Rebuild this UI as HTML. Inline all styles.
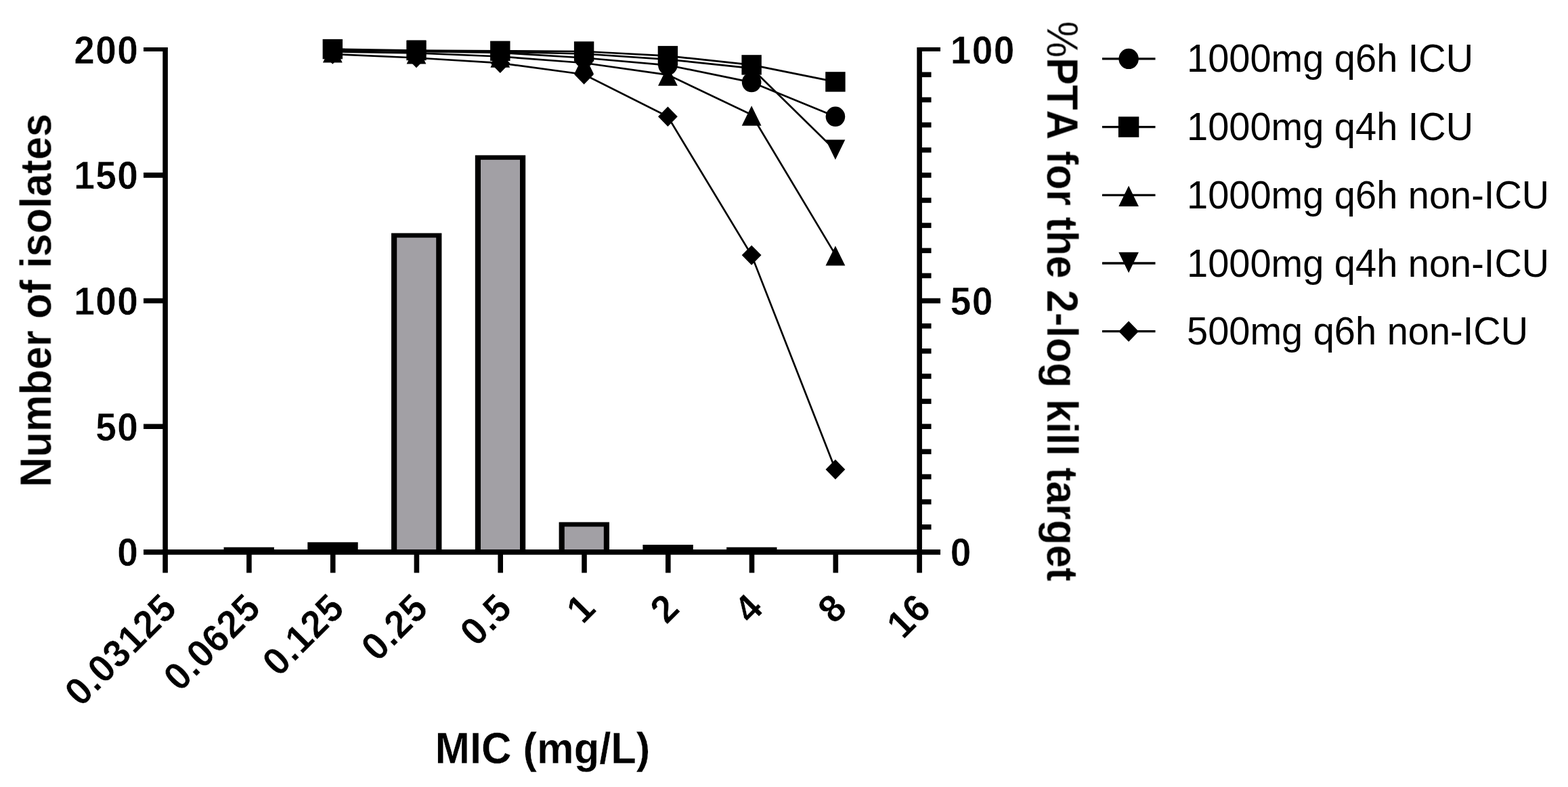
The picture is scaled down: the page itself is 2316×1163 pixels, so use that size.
<!DOCTYPE html>
<html lang="en">
<head>
<meta charset="utf-8">
<title>PTA vs MIC distribution</title>
<style>html,body{margin:0;padding:0;background:#fff;}svg{display:block;}</style>
</head>
<body>
<svg width="2316" height="1163" viewBox="0 0 2316 1163" font-family='"Liberation Sans", Arial, Helvetica, sans-serif' font-kerning="none" style="font-kerning:none">
<rect width="2316" height="1163" fill="#ffffff"/>
<defs><filter id="soft" x="0" y="0" width="2316" height="1163" filterUnits="userSpaceOnUse"><feGaussianBlur stdDeviation="0.7"/></filter><filter id="softText" x="0" y="0" width="2316" height="1163" filterUnits="userSpaceOnUse"><feGaussianBlur stdDeviation="0.5"/></filter></defs>
<g filter="url(#soft)">
<g stroke="none">
<rect x="330.5" y="808.7" width="74.4" height="7.2" fill="#000"/>
<rect x="454.3" y="801.3" width="74.4" height="14.6" fill="#000"/>
<rect x="578.0" y="344.5" width="74.4" height="471.4" fill="#000"/>
<rect x="586.2" y="351.2" width="58.0" height="460.9" fill="#a2a0a5"/>
<rect x="701.8" y="229.4" width="74.4" height="586.5" fill="#000"/>
<rect x="710.0" y="236.1" width="58.0" height="576.0" fill="#a2a0a5"/>
<rect x="825.6" y="771.6" width="74.4" height="44.3" fill="#000"/>
<rect x="833.8" y="778.3" width="58.0" height="33.8" fill="#a2a0a5"/>
<rect x="949.4" y="805.0" width="74.4" height="10.9" fill="#000"/>
<rect x="1073.1" y="808.7" width="74.4" height="7.2" fill="#000"/>
</g>
<g stroke="#000" stroke-width="7.6" fill="none" stroke-linecap="butt">
<line x1="244.1" y1="69.9" x2="244.1" y2="846.5"/>
<line x1="1358.1" y1="69.9" x2="1358.1" y2="846.5"/>
<line x1="212" y1="815.9" x2="1389" y2="815.9"/>
<line x1="212" y1="630.2" x2="244.1" y2="630.2"/>
<line x1="212" y1="444.5" x2="244.1" y2="444.5"/>
<line x1="212" y1="258.9" x2="244.1" y2="258.9"/>
<line x1="212" y1="72.90" x2="244.1" y2="72.90" stroke-width="6.0"/>
<line x1="1358.1" y1="72.90" x2="1389" y2="72.90" stroke-width="6.0"/>
<line x1="1358.1" y1="778.8" x2="1375.5" y2="778.8"/>
<line x1="1358.1" y1="741.6" x2="1375.5" y2="741.6"/>
<line x1="1358.1" y1="704.5" x2="1375.5" y2="704.5"/>
<line x1="1358.1" y1="667.4" x2="1375.5" y2="667.4"/>
<line x1="1358.1" y1="630.2" x2="1375.5" y2="630.2"/>
<line x1="1358.1" y1="593.1" x2="1375.5" y2="593.1"/>
<line x1="1358.1" y1="556.0" x2="1375.5" y2="556.0"/>
<line x1="1358.1" y1="518.8" x2="1375.5" y2="518.8"/>
<line x1="1358.1" y1="481.7" x2="1375.5" y2="481.7"/>
<line x1="1358.1" y1="444.5" x2="1389" y2="444.5"/>
<line x1="1358.1" y1="407.4" x2="1375.5" y2="407.4"/>
<line x1="1358.1" y1="370.3" x2="1375.5" y2="370.3"/>
<line x1="1358.1" y1="333.1" x2="1375.5" y2="333.1"/>
<line x1="1358.1" y1="296.0" x2="1375.5" y2="296.0"/>
<line x1="1358.1" y1="258.9" x2="1375.5" y2="258.9"/>
<line x1="1358.1" y1="221.7" x2="1375.5" y2="221.7"/>
<line x1="1358.1" y1="184.6" x2="1375.5" y2="184.6"/>
<line x1="1358.1" y1="147.5" x2="1375.5" y2="147.5"/>
<line x1="1358.1" y1="110.3" x2="1375.5" y2="110.3"/>
<line x1="367.9" y1="815.9" x2="367.9" y2="846.5"/>
<line x1="491.7" y1="815.9" x2="491.7" y2="846.5"/>
<line x1="615.4" y1="815.9" x2="615.4" y2="846.5"/>
<line x1="739.2" y1="815.9" x2="739.2" y2="846.5"/>
<line x1="863.0" y1="815.9" x2="863.0" y2="846.5"/>
<line x1="986.8" y1="815.9" x2="986.8" y2="846.5"/>
<line x1="1110.5" y1="815.9" x2="1110.5" y2="846.5"/>
<line x1="1234.3" y1="815.9" x2="1234.3" y2="846.5"/>
</g>
<polyline points="491.3,74.3 615.0,76.0 738.8,78.0 862.6,85.5 986.4,96.3 1110.1,121.6 1233.9,172.3" fill="none" stroke="#000" stroke-width="2.7"/>
<polyline points="491.3,72.6 615.0,74.5 738.8,75.3 862.6,76.0 986.4,82.6 1110.1,95.9 1233.9,120.9" fill="none" stroke="#000" stroke-width="2.7"/>
<polyline points="491.3,76.4 615.0,78.4 738.8,83.5 862.6,93.0 986.4,110.6 1110.1,169.5 1233.9,376.4" fill="none" stroke="#000" stroke-width="2.7"/>
<polyline points="491.3,73.6 615.0,75.2 738.8,76.8 862.6,79.5 986.4,87.8 1110.1,100.8 1233.9,222.2" fill="none" stroke="#000" stroke-width="2.7"/>
<polyline points="491.3,80.0 615.0,85.5 738.8,93.2 862.6,110.0 986.4,172.3 1110.1,377.1 1233.9,693.8" fill="none" stroke="#000" stroke-width="2.7"/>
<g fill="#000">
<ellipse cx="491.3" cy="74.3" rx="14.3" ry="14.7"/>
<ellipse cx="615.0" cy="76.0" rx="14.3" ry="14.7"/>
<ellipse cx="738.8" cy="78.0" rx="14.3" ry="14.7"/>
<ellipse cx="862.6" cy="85.5" rx="14.3" ry="14.7"/>
<ellipse cx="986.4" cy="96.3" rx="14.3" ry="14.7"/>
<ellipse cx="1110.1" cy="121.6" rx="14.3" ry="14.7"/>
<ellipse cx="1233.9" cy="172.3" rx="14.3" ry="14.7"/>
<rect x="476.6" y="57.9" width="29.4" height="29.4"/>
<rect x="600.3" y="59.8" width="29.4" height="29.4"/>
<rect x="724.1" y="60.6" width="29.4" height="29.4"/>
<rect x="847.9" y="61.3" width="29.4" height="29.4"/>
<rect x="971.7" y="67.9" width="29.4" height="29.4"/>
<rect x="1095.4" y="81.2" width="29.4" height="29.4"/>
<rect x="1219.2" y="106.2" width="29.4" height="29.4"/>
<path d="M491.3 63.2L505.7 92.6L476.9 92.6Z"/>
<path d="M615.0 65.2L629.4 94.6L600.6 94.6Z"/>
<path d="M738.8 70.3L753.2 99.7L724.4 99.7Z"/>
<path d="M862.6 79.8L877.0 109.2L848.2 109.2Z"/>
<path d="M986.4 97.4L1000.8 126.8L972.0 126.8Z"/>
<path d="M1110.1 156.3L1124.5 185.7L1095.7 185.7Z"/>
<path d="M1233.9 363.2L1248.3 392.6L1219.5 392.6Z"/>
<path d="M491.3 87.3L505.7 57.9L476.9 57.9Z"/>
<path d="M615.0 88.9L629.4 59.5L600.6 59.5Z"/>
<path d="M738.8 90.5L753.2 61.1L724.4 61.1Z"/>
<path d="M862.6 93.2L877.0 63.8L848.2 63.8Z"/>
<path d="M986.4 101.5L1000.8 72.1L972.0 72.1Z"/>
<path d="M1110.1 114.5L1124.5 85.1L1095.7 85.1Z"/>
<path d="M1233.9 235.9L1248.3 206.5L1219.5 206.5Z"/>
<path d="M491.3 65.3L505.7 80.0L491.3 94.7L476.9 80.0Z"/>
<path d="M615.0 70.8L629.4 85.5L615.0 100.2L600.6 85.5Z"/>
<path d="M738.8 78.5L753.2 93.2L738.8 107.9L724.4 93.2Z"/>
<path d="M862.6 95.3L877.0 110.0L862.6 124.7L848.2 110.0Z"/>
<path d="M986.4 157.6L1000.8 172.3L986.4 187.0L972.0 172.3Z"/>
<path d="M1110.1 362.4L1124.5 377.1L1110.1 391.8L1095.7 377.1Z"/>
<path d="M1233.9 679.1L1248.3 693.8L1233.9 708.5L1219.5 693.8Z"/>
</g>
</g>
<g filter="url(#softText)">
<text transform="translate(205.3 836.3) scale(1.0 1.041)" font-size="55" font-weight="bold" text-anchor="end" fill="#000" stroke="#fff" stroke-width="0.4" stroke-linejoin="round" letter-spacing="1.4">0</text>
<text transform="translate(205.3 650.6) scale(1.0 1.041)" font-size="55" font-weight="bold" text-anchor="end" fill="#000" stroke="#fff" stroke-width="0.4" stroke-linejoin="round" letter-spacing="1.4">50</text>
<text transform="translate(205.3 464.9) scale(1.0 1.041)" font-size="55" font-weight="bold" text-anchor="end" fill="#000" stroke="#fff" stroke-width="0.4" stroke-linejoin="round" letter-spacing="1.4">100</text>
<text transform="translate(205.3 279.3) scale(1.0 1.041)" font-size="55" font-weight="bold" text-anchor="end" fill="#000" stroke="#fff" stroke-width="0.4" stroke-linejoin="round" letter-spacing="1.4">150</text>
<text transform="translate(205.3 93.6) scale(1.0 1.041)" font-size="55" font-weight="bold" text-anchor="end" fill="#000" stroke="#fff" stroke-width="0.4" stroke-linejoin="round" letter-spacing="1.4">200</text>
<text transform="translate(1403.8 836.3) scale(1.0 1.041)" font-size="55" font-weight="bold" text-anchor="start" fill="#000" stroke="#fff" stroke-width="0.4" stroke-linejoin="round" letter-spacing="1.4">0</text>
<text transform="translate(1403.8 464.9) scale(1.0 1.041)" font-size="55" font-weight="bold" text-anchor="start" fill="#000" stroke="#fff" stroke-width="0.4" stroke-linejoin="round" letter-spacing="1.4">50</text>
<text transform="translate(1403.8 93.6) scale(1.0 1.041)" font-size="55" font-weight="bold" text-anchor="start" fill="#000" stroke="#fff" stroke-width="0.4" stroke-linejoin="round" letter-spacing="1.4">100</text>
<text transform="translate(264.1 901.5) rotate(-45) scale(1.0 1.041)" font-size="55" font-weight="bold" text-anchor="end" fill="#000" stroke="#fff" stroke-width="0.4" stroke-linejoin="round" letter-spacing="0.8">0.03125</text>
<text transform="translate(387.9 901.5) rotate(-45) scale(1.0 1.041)" font-size="55" font-weight="bold" text-anchor="end" fill="#000" stroke="#fff" stroke-width="0.4" stroke-linejoin="round" letter-spacing="0.8">0.0625</text>
<text transform="translate(511.7 901.5) rotate(-45) scale(1.0 1.041)" font-size="55" font-weight="bold" text-anchor="end" fill="#000" stroke="#fff" stroke-width="0.4" stroke-linejoin="round" letter-spacing="0.8">0.125</text>
<text transform="translate(635.4 901.5) rotate(-45) scale(1.0 1.041)" font-size="55" font-weight="bold" text-anchor="end" fill="#000" stroke="#fff" stroke-width="0.4" stroke-linejoin="round" letter-spacing="0.8">0.25</text>
<text transform="translate(759.2 901.5) rotate(-45) scale(1.0 1.041)" font-size="55" font-weight="bold" text-anchor="end" fill="#000" stroke="#fff" stroke-width="0.4" stroke-linejoin="round" letter-spacing="0.8">0.5</text>
<text transform="translate(883.0 901.5) rotate(-45) scale(1.0 1.041)" font-size="55" font-weight="bold" text-anchor="end" fill="#000" stroke="#fff" stroke-width="0.4" stroke-linejoin="round" letter-spacing="0.8">1</text>
<text transform="translate(1006.8 901.5) rotate(-45) scale(1.0 1.041)" font-size="55" font-weight="bold" text-anchor="end" fill="#000" stroke="#fff" stroke-width="0.4" stroke-linejoin="round" letter-spacing="0.8">2</text>
<text transform="translate(1130.5 901.5) rotate(-45) scale(1.0 1.041)" font-size="55" font-weight="bold" text-anchor="end" fill="#000" stroke="#fff" stroke-width="0.4" stroke-linejoin="round" letter-spacing="0.8">4</text>
<text transform="translate(1254.3 901.5) rotate(-45) scale(1.0 1.041)" font-size="55" font-weight="bold" text-anchor="end" fill="#000" stroke="#fff" stroke-width="0.4" stroke-linejoin="round" letter-spacing="0.8">8</text>
<text transform="translate(1378.1 901.5) rotate(-45) scale(1.0 1.041)" font-size="55" font-weight="bold" text-anchor="end" fill="#000" stroke="#fff" stroke-width="0.4" stroke-linejoin="round" letter-spacing="0.8">16</text>
<text transform="translate(801.5 1128.0) scale(1.0 1.041)" font-size="61.5" font-weight="bold" text-anchor="middle" fill="#000" stroke="#fff" stroke-width="0.3" stroke-linejoin="round">MIC (mg/L)</text>
<text transform="translate(75.6 444.0) rotate(-90) scale(0.997 1.041)" font-size="61.5" font-weight="bold" text-anchor="middle" fill="#000" stroke="#fff" stroke-width="0.3" stroke-linejoin="round">Number of isolates</text>
<text transform="translate(1546.4 445.2) rotate(90) scale(0.985 1.041)" font-size="61.5" font-weight="bold" text-anchor="middle" fill="#000" stroke="#fff" stroke-width="0.3" stroke-linejoin="round"><tspan font-weight="normal">%</tspan>PTA for the 2-log kill target</text>
<line x1="1628" y1="86.9" x2="1706.5" y2="86.9" stroke="#000" stroke-width="3.3"/>
<g fill="#000"><ellipse cx="1667.1" cy="86.9" rx="14.7" ry="15.2"/></g>
<text transform="translate(1753.0 106.4) scale(1.0 1.041)" font-size="56.0" font-weight="normal" text-anchor="start" fill="#000">1000mg q6h ICU</text>
<line x1="1628" y1="187.6" x2="1706.5" y2="187.6" stroke="#000" stroke-width="3.3"/>
<g fill="#000"><rect x="1651.9" y="172.4" width="30.4" height="30.4"/></g>
<text transform="translate(1753.0 207.1) scale(1.0 1.041)" font-size="56.0" font-weight="normal" text-anchor="start" fill="#000">1000mg q4h ICU</text>
<line x1="1628" y1="288.3" x2="1706.5" y2="288.3" stroke="#000" stroke-width="3.3"/>
<g fill="#000"><path d="M1667.1 274.6L1681.9 305.0L1652.3 305.0Z"/></g>
<text transform="translate(1753.0 307.8) scale(1.0 1.041)" font-size="56.0" font-weight="normal" text-anchor="start" fill="#000">1000mg q6h non-ICU</text>
<line x1="1628" y1="389.0" x2="1706.5" y2="389.0" stroke="#000" stroke-width="3.3"/>
<g fill="#000"><path d="M1667.1 403.2L1681.9 372.8L1652.3 372.8Z"/></g>
<text transform="translate(1753.0 408.5) scale(1.0 1.041)" font-size="56.0" font-weight="normal" text-anchor="start" fill="#000">1000mg q4h non-ICU</text>
<line x1="1628" y1="489.7" x2="1706.5" y2="489.7" stroke="#000" stroke-width="3.3"/>
<g fill="#000"><path d="M1667.1 474.5L1681.9 489.7L1667.1 504.9L1652.3 489.7Z"/></g>
<text transform="translate(1753.0 509.2) scale(1.0 1.041)" font-size="56.0" font-weight="normal" text-anchor="start" fill="#000">500mg q6h non-ICU</text>
</g>
</svg>
</body>
</html>
